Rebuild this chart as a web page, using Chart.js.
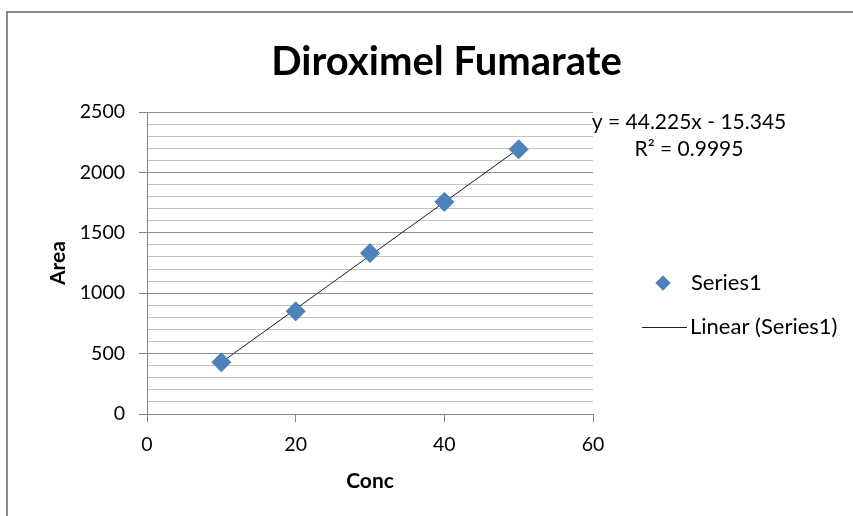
<!DOCTYPE html>
<html>
<head>
<meta charset="utf-8">
<title>Diroximel Fumarate</title>
<script src="https://cdn.jsdelivr.net/npm/chart.js@4/dist/chart.umd.min.js"></script>
<style>
  html, body { margin: 0; padding: 0; background: #fff; }
  canvas { display: block; }
</style>
</head>
<body>
<canvas id="chart" width="853" height="516"></canvas>
<script>
// Calibration data: concentration vs. peak area
const concentrations = [10, 20, 30, 40, 50];
const areas = [428, 850, 1332, 1756, 2191];

// Linear fit reported for the series
const fitSlope = 44.225;
const fitIntercept = -15.345;
const fitR2 = 0.9995;

// Axis ticks
const xTicks = [0, 20, 40, 60];
const yMajorTicks = [0, 500, 1000, 1500, 2000, 2500];
const yMinorStep = 100;

const FONT = 'Lato, "Open Sans", sans-serif';
const BLUE = '#4F81BD';
const AXIS_GREY = '#868686';

const points = concentrations.map((x, i) => ({ x, y: areas[i] }));
const xFirst = Math.min(...concentrations);
const xLast = Math.max(...concentrations);
const trendPoints = [xFirst, xLast].map(x => ({ x, y: fitSlope * x + fitIntercept }));

const isMajor = v => yMajorTicks.includes(v);

// Outer chart frame
const framePlugin = {
  id: 'frame',
  beforeDraw(chart) {
    const ctx = chart.ctx;
    ctx.save();
    ctx.fillStyle = '#fff';
    ctx.fillRect(0, 0, chart.width, chart.height);
    ctx.strokeStyle = '#8a8a8a';
    ctx.lineWidth = 2;
    ctx.strokeRect(7, 12, chart.width + 50, chart.height + 50);
    ctx.restore();
  }
};

// Trendline equation and a legend to the right of the plot
const sidePlugin = {
  id: 'side',
  afterDraw(chart) {
    const ctx = chart.ctx;
    const area = chart.chartArea;
    ctx.save();
    ctx.fillStyle = '#000';
    ctx.font = '21px ' + FONT;
    ctx.textAlign = 'center';
    ctx.textBaseline = 'middle';
    const eqX = area.right + 96;
    const sign = fitIntercept < 0 ? '- ' : '+ ';
    ctx.fillText('y = ' + fitSlope.toFixed(3) + 'x ' + sign + Math.abs(fitIntercept).toFixed(3), eqX, area.top + 10);
    ctx.fillText('R\u00B2 = ' + fitR2.toFixed(4), eqX, area.top + 37);

    // legend entries
    const ly1 = 283, ly2 = 327;
    ctx.font = '22px ' + FONT;
    ctx.textAlign = 'left';
    ctx.fillStyle = BLUE;
    Chart.helpers.drawPoint(ctx, { pointStyle: 'rectRot', radius: 7.5, borderWidth: 0 }, area.right + 70, ly1);
    ctx.fill();
    ctx.fillStyle = '#000';
    ctx.fillText('Series1', area.right + 98, ly1);

    ctx.strokeStyle = '#202020';
    ctx.lineWidth = 1;
    ctx.beginPath();
    ctx.moveTo(area.right + 49, ly2 + 0.5);
    ctx.lineTo(area.right + 94, ly2 + 0.5);
    ctx.stroke();
    ctx.fillText('Linear (Series1)', area.right + 97, ly2);
    ctx.restore();
  }
};

new Chart(document.getElementById('chart'), {
  type: 'scatter',
  data: {
    datasets: [
      {
        label: 'Linear (Series1)',
        type: 'line',
        data: trendPoints,
        borderColor: '#202020',
        borderWidth: 1,
        pointRadius: 0,
        fill: false,
        order: 2
      },
      {
        label: 'Series1',
        data: points,
        pointStyle: 'rectRot',
        pointRadius: 9.5,
        backgroundColor: BLUE,
        borderColor: '#4A7EBB',
        borderWidth: 1,
        order: 1
      }
    ]
  },
  options: {
    responsive: false,
    animation: false,
    devicePixelRatio: 1,
    layout: { padding: { left: 40, right: 0, top: 0, bottom: 22 } },
    plugins: {
      legend: { display: false },
      tooltip: { enabled: false },
      title: {
        display: true,
        text: 'Diroximel Fumarate',
        color: '#000',
        font: { family: FONT, size: 40, weight: 'bold', lineHeight: 1.2 },
        padding: { top: 38, bottom: 26 }
      }
    },
    scales: {
      x: {
        type: 'linear',
        min: xTicks[0],
        max: xTicks[xTicks.length - 1],
        afterBuildTicks(scale) { scale.ticks = xTicks.map(v => ({ value: v })); },
        ticks: { color: '#000', font: { family: FONT, size: 19.5 }, padding: 11 },
        grid: { drawOnChartArea: false, drawTicks: true, tickLength: 8, tickColor: AXIS_GREY, lineWidth: 1 },
        border: { display: true, color: AXIS_GREY, width: 1 },
        title: { display: true, text: 'Conc', color: '#000', font: { family: FONT, size: 21, weight: 'bold' }, padding: 0 },
        afterFit(scale) { scale.height = 80; }
      },
      y: {
        type: 'linear',
        min: 0,
        max: 2500,
        ticks: {
          stepSize: yMinorStep,
          autoSkip: false,
          color: '#000',
          font: { family: FONT, size: 19.5 },
          padding: 14,
          callback: v => (isMajor(v) ? String(v) : '')
        },
        grid: {
          color: ctx => (ctx.tick && isMajor(ctx.tick.value) ? '#8c8c8c' : '#c4c4c4'),
          tickColor: ctx => (ctx.tick && isMajor(ctx.tick.value) ? AXIS_GREY : 'rgba(0,0,0,0)'),
          tickLength: 8,
          lineWidth: 1
        },
        border: { display: true, color: AXIS_GREY, width: 1 },
        title: { display: true, text: 'Area', color: '#000', font: { family: FONT, size: 21, weight: 'bold' }, padding: { top: 6, bottom: 0 } },
        afterFit(scale) { scale.width = 107; }
      },
      // empty axis that reserves the space used by the fit equation and legend
      side: {
        type: 'linear',
        position: 'right',
        min: 0,
        max: 1,
        grid: { display: false },
        ticks: { display: false },
        border: { display: false },
        afterFit(scale) { scale.width = 260; }
      }
    }
  },
  plugins: [framePlugin, sidePlugin]
});
</script>
</body>
</html>
